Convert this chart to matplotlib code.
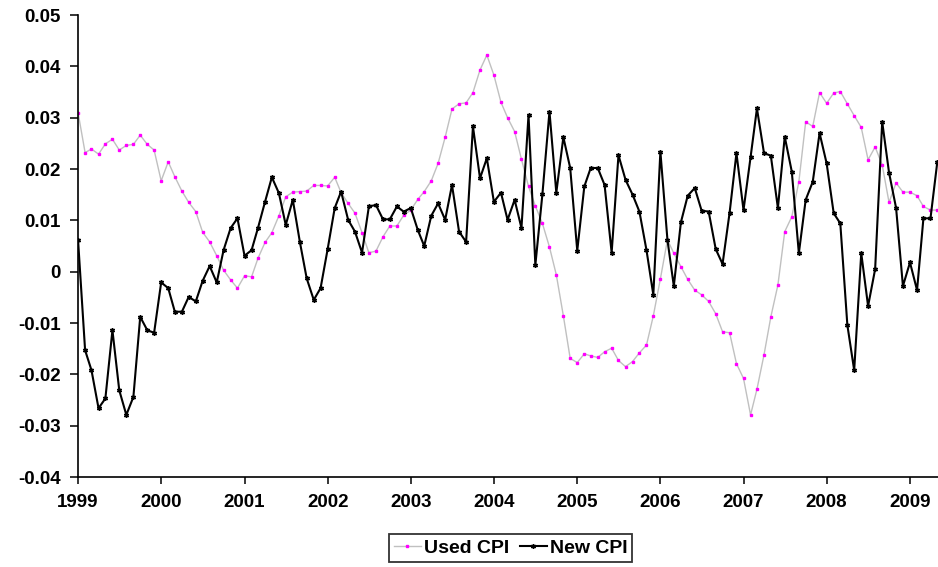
import pandas as pd
import matplotlib
matplotlib.use("Agg")
import matplotlib.pyplot as plt

plt.rcParams['font.family'] = ['Liberation Sans', 'DejaVu Sans']

months = pd.date_range('1999-01-01', periods=125, freq='MS')

used_cpi = [
    0.0310, 0.0232, 0.0239, 0.0229, 0.0249, 0.0258, 0.0237, 0.0246, 0.0248, 0.0266, 0.0248, 0.0237,
    0.0177, 0.0214, 0.0185, 0.0157, 0.0135, 0.0117, 0.0077, 0.0058, 0.0031, 0.0003, -0.0016, -0.0032,
    -0.0008, -0.0010, 0.0026, 0.0057, 0.0076, 0.0109, 0.0146, 0.0155, 0.0156, 0.0157, 0.0168, 0.0168,
    0.0167, 0.0184, 0.0154, 0.0133, 0.0114, 0.0076, 0.0037, 0.0040, 0.0068, 0.0089, 0.0089, 0.0110,
    0.0120, 0.0141, 0.0156, 0.0177, 0.0211, 0.0262, 0.0317, 0.0327, 0.0329, 0.0349, 0.0393, 0.0422,
    0.0383, 0.0330, 0.0300, 0.0273, 0.0219, 0.0166, 0.0128, 0.0094, 0.0048, -0.0006, -0.0086, -0.0169,
    -0.0177, -0.0160, -0.0164, -0.0167, -0.0156, -0.0149, -0.0173, -0.0185, -0.0175, -0.0158, -0.0143, -0.0086,
    -0.0014, 0.0062, 0.0036, 0.0010, -0.0015, -0.0036, -0.0045, -0.0058, -0.0082, -0.0117, -0.0119, -0.0179,
    -0.0208, -0.0279, -0.0229, -0.0162, -0.0088, -0.0026, 0.0078, 0.0107, 0.0175, 0.0292, 0.0283, 0.0349,
    0.0328, 0.0348, 0.0351, 0.0327, 0.0304, 0.0281, 0.0218, 0.0243, 0.0208, 0.0135, 0.0173, 0.0155,
    0.0155, 0.0148, 0.0127, 0.0120, 0.0120,
]

new_cpi = [
    0.0062, -0.0153, -0.0192, -0.0266, -0.0247, -0.0114, -0.0231, -0.0279, -0.0244, -0.0088, -0.0114, -0.0119,
    -0.0021, -0.0032, -0.0078, -0.0078, -0.0049, -0.0058, -0.0018, 0.0011, -0.0021, 0.0042, 0.0085, 0.0104,
    0.0031, 0.0042, 0.0085, 0.0136, 0.0184, 0.0153, 0.0091, 0.0140, 0.0058, -0.0013, -0.0055, -0.0032,
    0.0044, 0.0124, 0.0156, 0.0101, 0.0078, 0.0037, 0.0127, 0.0130, 0.0102, 0.0102, 0.0127, 0.0117,
    0.0124, 0.0081, 0.0050, 0.0109, 0.0133, 0.0101, 0.0169, 0.0078, 0.0058, 0.0283, 0.0182, 0.0221,
    0.0136, 0.0154, 0.0101, 0.0140, 0.0085, 0.0305, 0.0013, 0.0151, 0.0312, 0.0154, 0.0262, 0.0202,
    0.0041, 0.0166, 0.0202, 0.0202, 0.0169, 0.0037, 0.0227, 0.0179, 0.0150, 0.0117, 0.0042, -0.0045,
    0.0234, 0.0062, -0.0028, 0.0096, 0.0148, 0.0163, 0.0119, 0.0117, 0.0044, 0.0015, 0.0115, 0.0231,
    0.0120, 0.0223, 0.0318, 0.0231, 0.0226, 0.0124, 0.0263, 0.0195, 0.0036, 0.0140, 0.0175, 0.0270,
    0.0211, 0.0114, 0.0094, -0.0104, -0.0192, 0.0036, -0.0067, 0.0005, 0.0292, 0.0193, 0.0124, -0.0028,
    0.0018, -0.0036, 0.0104, 0.0104, 0.0214,
]

y_ticks = [-0.04, -0.03, -0.02, -0.01, 0, 0.01, 0.02, 0.03, 0.04, 0.05]
y_labels = ['-0.04', '-0.03', '-0.02', '-0.01', '0', '0.01', '0.02', '0.03', '0.04', '0.05']
years = list(range(1999, 2010))

fig = plt.figure(figsize=(9.38, 5.67), dpi=100)
ax = fig.add_axes([0.0832, 0.1587, 0.9168, 0.8148])

ax.plot(months, used_cpi, color='#c0c0c0', lw=1.0, marker='s', ms=2.0,
        mfc='#ff00ff', mec='#ff00ff', label='Used CPI')
ax.plot(months, new_cpi, color='black', lw=1.5, marker=(6, 2, 0), ms=3.5,
        mfc='black', mec='black', mew=1.0, label='New CPI')

ax.set_ylim(-0.04, 0.05)
ax.set_xlim(months[0], months[-1] + pd.Timedelta(days=3))
ax.set_yticks(y_ticks)
ax.set_yticklabels(y_labels)
ax.set_xticks([pd.Timestamp(f'{y}-01-01') for y in years])
ax.set_xticklabels([str(y) for y in years])

for s in ['top', 'right']:
    ax.spines[s].set_visible(False)
for s in ['left', 'bottom']:
    ax.spines[s].set_linewidth(1.2)
    ax.spines[s].set_color('black')

ax.tick_params(axis='both', direction='out', width=1.1, colors='black', labelsize=13.5)
ax.tick_params(axis='y', length=5.8, pad=6.5)
ax.tick_params(axis='x', length=5, pad=7.5)
for lab in ax.get_xticklabels() + ax.get_yticklabels():
    lab.set_fontweight('bold')

leg = fig.legend(loc='center', bbox_to_anchor=(510.5 / 938, 1 - 548 / 567), ncol=2,
                 frameon=True, fancybox=False, edgecolor='black',
                 prop={'size': 14, 'weight': 'bold'},
                 handlelength=1.4, handletextpad=0.15, columnspacing=0.55,
                 borderpad=0.25, borderaxespad=0)
leg.get_frame().set_linewidth(1.3)

fig.savefig('out.png', dpi=100)
